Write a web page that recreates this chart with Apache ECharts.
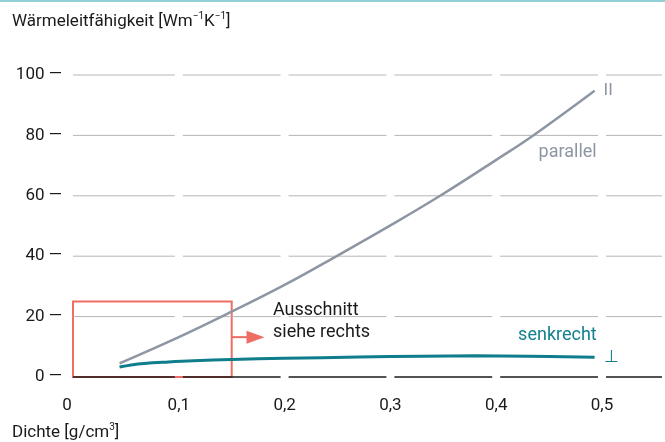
<!DOCTYPE html>
<html>
<head>
<meta charset="UTF-8">
<title>Wärmeleitfähigkeit</title>
<script src="https://cdn.jsdelivr.net/npm/echarts@6/dist/echarts.min.js"></script>
<style>
html, body { margin: 0; padding: 0; background: #fff; }
#container { width: 665px; height: 442px; }
</style>
</head>
<body>
<div id="container"></div>
<script>
// data
var xTicks = [0, 0.1, 0.2, 0.3, 0.4, 0.5];
var yTicks = [0, 20, 40, 60, 80, 100];
var parallelX = [0.044, 0.1, 0.144, 0.2, 0.248, 0.3, 0.347, 0.4, 0.435, 0.493];
var parallelY = [4.5, 13.2, 20.6, 30.5, 39.8, 50.2, 60, 71.9, 80, 94.8];
var senkrechtX = [0.044, 0.055, 0.067, 0.09, 0.114, 0.15, 0.2, 0.27, 0.33, 0.38, 0.43, 0.493];
var senkrechtY = [3.3, 4.0, 4.5, 5.0, 5.4, 5.8, 6.2, 6.6, 6.9, 7.0, 6.9, 6.5];
var boxX = 0.15, boxY = 25;          // Ausschnitt
var arrowY = 13.2, arrowTipX = 0.181;
var noteX = [0.495, 0.495, 0.189];
var noteY = [74.2, 13.9, 18.3];
var noteText = ['parallel', 'senkrecht', 'Ausschnitt\nsiehe rechts'];
var noteColor = ['#8d96a2', '#13808e', '#1a1a1a'];

var X_MAX = 0.5567;
var RED = '#ef6e64', GREY = '#8d96a2', TEAL = '#0f7d8c';
var FONT = 'Roboto';

function pairs(xs, ys) {
  return xs.map(function (x, i) { return [x, ys[i]]; });
}

function renderGrid(params, api) {
  var v = api.value(1);
  var edges = xTicks.concat([X_MAX]);
  var kids = [];
  for (var i = 0; i < edges.length - 1; i++) {
    var a = api.coord([edges[i], v]), b = api.coord([edges[i + 1], v]);
    var x1 = a[0] + (i === 0 ? 0 : 4);
    var x2 = b[0] - (i === edges.length - 2 ? 0 : 4);
    kids.push({
      type: 'line',
      shape: { x1: x1, y1: a[1], x2: x2, y2: a[1] },
      style: { stroke: v === 0 ? '#1a1a1a' : '#b6b6b6', lineWidth: v === 0 ? 1.5 : 1 }
    });
  }
  return { type: 'group', children: kids };
}

function renderBox(params, api) {
  var p0 = api.coord([0, 0]), p1 = api.coord([api.value(0), api.value(1)]);
  var ay = api.coord([0, arrowY])[1];
  var tip = api.coord([arrowTipX, 0])[0];
  return {
    type: 'group',
    children: [
      { type: 'rect', shape: { x: p0[0], y: p1[1], width: p1[0] - p0[0], height: p0[1] - p1[1] },
        style: { fill: 'none', stroke: RED, lineWidth: 2 } },
      { type: 'line', shape: { x1: p1[0], y1: ay, x2: tip - 16, y2: ay },
        style: { stroke: RED, lineWidth: 2 } },
      { type: 'polygon', shape: { points: [[tip - 18, ay - 6.5], [tip, ay], [tip - 18, ay + 6.5]] },
        style: { fill: RED } }
    ]
  };
}

function renderNote(params, api) {
  var i = params.dataIndex;
  var p = api.coord([api.value(0), api.value(1)]);
  var left = i === 2;
  return {
    type: 'text',
    x: p[0], y: p[1],
    style: {
      text: noteText[i],
      fill: noteColor[i],
      font: '18px ' + FONT,
      lineHeight: 22,
      align: left ? 'left' : 'right',
      verticalAlign: 'middle'
    }
  };
}

var chart = echarts.init(document.getElementById('container'));

var supRich = {
  b: { fontSize: 17, fontFamily: FONT, fill: '#1a1a1a', lineHeight: 21 },
  s: { fontSize: 10, fontFamily: FONT, fill: '#1a1a1a', lineHeight: 9, verticalAlign: 'top' }
};

var option = {
  animation: false,
  textStyle: { fontFamily: FONT },
  grid: { left: 73, right: 3, top: 75, bottom: 65, containLabel: false },
  xAxis: {
    type: 'value', min: 0, max: X_MAX, interval: 0.1,
    axisLine: { show: false }, axisTick: { show: false }, splitLine: { show: false },
    axisLabel: {
      color: '#1a1a1a', fontSize: 17, margin: 20, showMaxLabel: false,
      formatter: function (v) {
        if (v === 0) return '{z|0}';
        return v.toFixed(1).replace('.', ',');
      },
      rich: { z: { fontSize: 17, color: '#1a1a1a', padding: [0, 12, 0, 0] } }
    }
  },
  yAxis: {
    type: 'value', min: 0, max: 100, interval: 20,
    axisLine: { show: false }, axisTick: { show: false }, splitLine: { show: false },
    axisLabel: {
      color: '#1a1a1a', fontSize: 17, margin: 11,
      formatter: function (v) { return v + ' \u2014'; }
    }
  },
  graphic: [
    { type: 'rect', left: 0, top: 0, shape: { width: 665, height: 2 }, style: { fill: '#8fcfd7' } },
    { type: 'text', left: 12, top: 11,
      style: { text: '{b|Wärmeleitfähigkeit [Wm}{s|\u22121}{b|K}{s|\u22121}{b|]}', rich: supRich } },
    { type: 'text', left: 12, top: 422,
      style: { text: '{b|Dichte [g/cm}{s|3}{b|]}', rich: supRich } }
  ],
  series: [
    { type: 'custom', name: 'box', renderItem: renderBox, data: [[boxX, boxY]], z: 1, silent: true },
    { type: 'custom', name: 'grid', renderItem: renderGrid,
      data: yTicks.map(function (v) { return [0, v]; }), z: 2, silent: true },
    {
      type: 'line', name: 'parallel', data: pairs(parallelX, parallelY), smooth: 0.4,
      showSymbol: false, z: 3,
      lineStyle: { color: GREY, width: 2.5 }, itemStyle: { color: GREY },
      endLabel: { show: true, formatter: 'II', color: GREY, fontSize: 17, distance: 9 }
    },
    {
      type: 'line', name: 'senkrecht', data: pairs(senkrechtX, senkrechtY), smooth: 0.4,
      showSymbol: false, z: 3,
      lineStyle: { color: TEAL, width: 3 }, itemStyle: { color: TEAL },
      endLabel: { show: true, formatter: '\u22a5', color: TEAL, fontSize: 17, distance: 9 }
    },
    { type: 'custom', name: 'notes', renderItem: renderNote, data: pairs(noteX, noteY), z: 4, silent: true }
  ]
};

chart.setOption(option);
</script>
</body>
</html>
